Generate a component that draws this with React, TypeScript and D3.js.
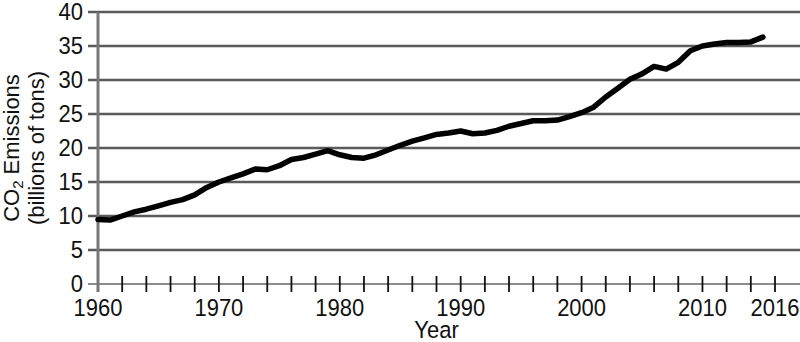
import React, { useEffect, useRef } from 'react'
import * as d3 from 'd3'

const years = d3.range(1960, 2016)
const emissions = [
  9.5, 9.4, 10.0, 10.6, 11.0, 11.5, 12.0, 12.4, 13.1, 14.2,
  15.0, 15.6, 16.2, 16.9, 16.8, 17.4, 18.3, 18.6, 19.1, 19.6,
  19.0, 18.6, 18.5, 19.0, 19.7, 20.4, 21.0, 21.5, 22.0, 22.2,
  22.5, 22.1, 22.2, 22.6, 23.2, 23.6, 24.0, 24.0, 24.1, 24.6,
  25.2, 26.0, 27.5, 28.8, 30.1, 30.9, 32.0, 31.6, 32.6, 34.3,
  35.0, 35.3, 35.5, 35.5, 35.6, 36.3,
]
const yTicks = [0, 5, 10, 15, 20, 25, 30, 35, 40]
const yearLabels = [1960, 1970, 1980, 1990, 2000, 2010, 2016]
const minorYears = d3.range(1962, 2017, 2)

export default function App() {
  const ref = useRef<SVGSVGElement>(null)

  useEffect(() => {
    const width = 800
    const height = 342
    const left = 98
    const top = 12
    const bottom = 284
    const font = 'Liberation Sans, Arial, sans-serif'
    const stretch = 1.08 // the horizontal labels look a bit taller than wide

    const svg = d3.select(ref.current)
    svg.selectAll('*').remove()
    svg.attr('width', width).attr('height', height)

    const x = d3.scaleLinear().domain([1960, 2016]).range([left, 775])
    const y = d3.scaleLinear().domain([0, 40]).range([bottom, top])

    // horizontal grid lines, they start a bit left of the y axis
    svg.append('g')
      .selectAll('line')
      .data(yTicks.filter(d => d > 0))
      .enter()
      .append('line')
      .attr('x1', left - 10)
      .attr('x2', width)
      .attr('y1', d => y(d))
      .attr('y2', d => y(d))
      .attr('stroke', '#5a5a5a')
      .attr('stroke-width', 2.5)

    // x axis line
    svg.append('line')
      .attr('x1', left - 10)
      .attr('x2', width)
      .attr('y1', y(0))
      .attr('y2', y(0))
      .attr('stroke', '#666')
      .attr('stroke-width', 1.5)

    // y axis line
    svg.append('line')
      .attr('x1', left)
      .attr('x2', left)
      .attr('y1', y(40))
      .attr('y2', y(0) + 8)
      .attr('stroke', '#777')
      .attr('stroke-width', 3)

    svg.append('g')
      .selectAll('line')
      .data(minorYears)
      .enter()
      .append('line')
      .attr('x1', d => x(d))
      .attr('x2', d => x(d))
      .attr('y1', y(0) - 8)
      .attr('y2', y(0) + 8)
      .attr('stroke', '#111')
      .attr('stroke-width', 1.8)

    svg.append('g')
      .selectAll('text')
      .data(yTicks)
      .enter()
      .append('text')
      .attr('transform', d => `translate(83, ${y(d) + 7.5}) scale(1, ${stretch})`)
      .attr('text-anchor', 'end')
      .attr('font-family', font)
      .attr('font-size', 22)
      .attr('fill', '#111')
      .text(d => d)

    svg.append('g')
      .selectAll('text')
      .data(yearLabels)
      .enter()
      .append('text')
      .attr('transform', d => `translate(${x(d)}, 316) scale(1, ${stretch})`)
      .attr('text-anchor', 'middle')
      .attr('font-family', font)
      .attr('font-size', 22)
      .attr('fill', '#111')
      .text(d => d)

    svg.append('text')
      .attr('transform', `translate(${(left + 775) / 2}, 338) scale(1, ${stretch})`)
      .attr('text-anchor', 'middle')
      .attr('font-family', font)
      .attr('font-size', 22)
      .attr('fill', '#111')
      .text('Year')

    const title = svg.append('g')
      .attr('transform', `translate(0, ${(top + bottom) / 2}) rotate(-90)`)
      .attr('font-family', font)
      .attr('font-size', 22)
      .attr('fill', '#111')
      .attr('text-anchor', 'middle')
    const t1 = title.append('text').attr('x', 0).attr('y', 19)
    t1.append('tspan').text('CO')
    t1.append('tspan').attr('font-size', 15).attr('dy', 4).text('2')
    t1.append('tspan').attr('dy', -4).text(' Emissions')
    title.append('text').attr('x', 0).attr('y', 44).text('(billions of tons)')

    const line = d3.line<number>()
      .x((d, i) => x(years[i]))
      .y(d => y(d))

    svg.append('path')
      .datum(emissions)
      .attr('d', line)
      .attr('fill', 'none')
      .attr('stroke', '#000')
      .attr('stroke-width', 5.5)
      .attr('stroke-linejoin', 'round')
      .attr('stroke-linecap', 'round')
  }, [])

  return (
    <svg ref={ref} style={{ position: 'absolute', left: 0, top: 0, background: '#fff' }} />
  )
}
